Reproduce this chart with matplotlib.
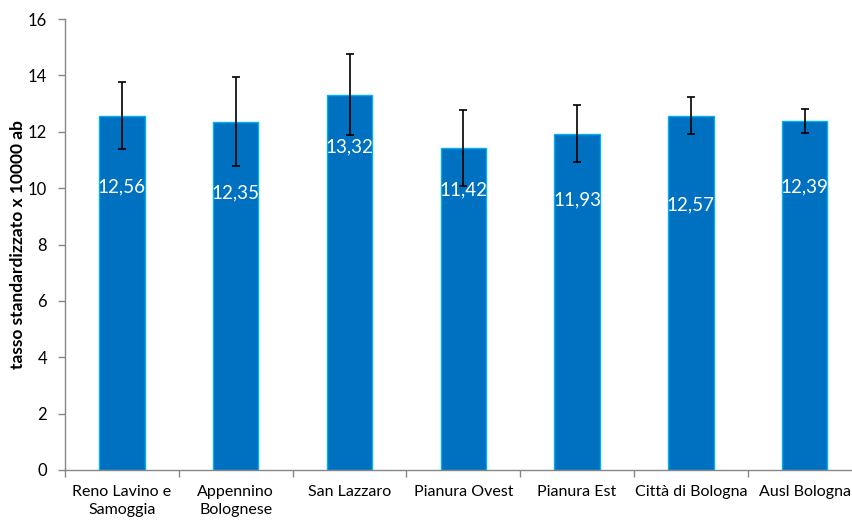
import matplotlib
matplotlib.use("Agg")
import matplotlib.pyplot as plt
import numpy as np

categories = ["Reno Lavino e\nSamoggia", "Appennino\nBolognese", "San Lazzaro",
              "Pianura Ovest", "Pianura Est", "Città di Bologna", "Ausl Bologna"]
values = [12.56, 12.35, 13.32, 11.42, 11.93, 12.57, 12.39]
ci_low = [11.39, 10.78, 11.88, 10.07, 10.94, 11.92, 11.97]
ci_high = [13.76, 13.95, 14.76, 12.77, 12.94, 13.24, 12.82]
value_labels = ["12,56", "12,35", "13,32", "11,42", "11,93", "12,57", "12,39"]
label_y = [10.05, 9.84, 11.45, 9.93, 9.58, 9.40, 10.05]

plt.rcParams["font.family"] = ["Lato", "DejaVu Sans"]

fig = plt.figure(figsize=(8.52, 5.22), dpi=100)
ax = fig.add_axes([65 / 852, 52 / 522, 796.6 / 852, 451 / 522])

x = np.arange(len(categories))
vals = np.array(values)
yerr = np.array([vals - np.array(ci_low), np.array(ci_high) - vals])

ax.bar(x, vals, width=0.40, color="#0070C0", edgecolor="#00B0F0", linewidth=1.0, zorder=2)
ax.errorbar(x, vals, yerr=yerr, fmt="none", ecolor="black", elinewidth=1.2,
            capsize=3, capthick=1.2, zorder=3)

for xi, yi, t in zip(x, label_y, value_labels):
    ax.text(xi, yi, t, ha="center", va="center", color="white", fontsize=13.5, zorder=4)

ax.set_xlim(-0.5, 6.5)
ax.set_ylim(0, 16)
ax.set_yticks(np.arange(0, 17, 2))
ax.set_xticks(x)
ax.set_xticklabels(categories, fontsize=11.5, linespacing=1.3)
ax.set_xticks(np.arange(-0.5, 7, 1), minor=True)
ax.tick_params(axis="x", which="major", length=0, pad=11)
ax.tick_params(axis="x", which="minor", length=5, color="#868686", width=1)
ax.tick_params(axis="y", length=5, color="#868686", width=1, labelsize=12, pad=8)

for s in ["top", "right"]:
    ax.spines[s].set_visible(False)
for s in ["left", "bottom"]:
    ax.spines[s].set_color("#868686")
    ax.spines[s].set_linewidth(1.0)

ax.set_ylabel("tasso standardizzato x 10000 ab", fontsize=12.5, fontweight="bold", labelpad=1)

fig.savefig("out.png", dpi=100)
